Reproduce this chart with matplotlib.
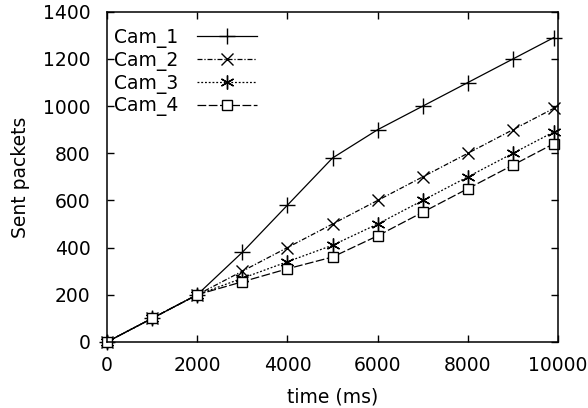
import matplotlib
matplotlib.use("Agg")
import matplotlib.pyplot as plt

plt.rcParams['font.family'] = ['DejaVu Sans']

time_ms = [0, 1000, 2000, 3000, 4000, 5000, 6000, 7000, 8000, 9000, 9900]
cam_1 = [0, 100, 200, 380, 580, 780, 900, 1000, 1100, 1200, 1290]
cam_2 = [0, 100, 200, 300, 400, 500, 600, 700, 800, 900, 990]
cam_3 = [0, 100, 200, 270, 340, 410, 500, 600, 700, 800, 890]
cam_4 = [0, 100, 200, 255, 310, 360, 450, 550, 650, 750, 840]
labels = ["Cam_1", "Cam_2", "Cam_3", "Cam_4"]
xticks = [0, 2000, 4000, 6000, 8000, 10000]
yticks = [0, 200, 400, 600, 800, 1000, 1200, 1400]

fig = plt.figure(figsize=(5.88, 4.08), dpi=100)
ax = fig.add_axes([0.182, 0.162, 0.767, 0.809])

lw = 0.9
fs = 13.5
ax.plot(time_ms, cam_1, color='black', lw=lw, ls='-', marker='+', ms=11, mew=1.0, label=labels[0], clip_on=False)
ax.plot(time_ms, cam_2, color='black', lw=lw, ls=(0, (4, 1.5, 1, 1.5)), marker='x', ms=9, mew=1.0, label=labels[1], clip_on=False)
ax.plot(time_ms, cam_3, color='black', lw=lw, ls=(0, (1.5, 1.5)), marker=(6, 2, 0), ms=10, mew=1.0, label=labels[2], clip_on=False)
ax.plot(time_ms, cam_4, color='black', lw=lw, ls=(0, (7, 2)), marker='s', ms=7, mew=1.0, mfc='white', label=labels[3], clip_on=False)

ax.set_xlim(0, 10000)
ax.set_ylim(0, 1400)
ax.set_xticks(xticks)
ax.set_yticks(yticks)
ax.tick_params(direction='in', length=5, width=1, top=True, right=True, labelsize=fs)
ax.tick_params(axis='x', pad=10)
ax.tick_params(axis='y', pad=12)
for s in ax.spines.values():
    s.set_linewidth(1.1)

ax.set_xlabel("time (ms)", fontsize=fs, labelpad=9)
ax.set_ylabel("Sent packets", fontsize=fs, labelpad=9)

leg = ax.legend(loc='upper left', frameon=False, markerfirst=False, fontsize=fs,
                handlelength=3.2, handletextpad=1.0, labelspacing=0.15,
                borderaxespad=0.2, bbox_to_anchor=(-0.01, 0.985))

fig.savefig("out.png", dpi=100)
